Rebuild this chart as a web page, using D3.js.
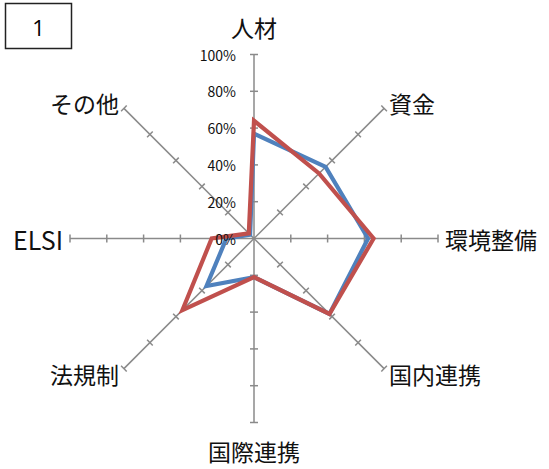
<!DOCTYPE html>
<html lang="ja">
<head>
<meta charset="utf-8">
<title>Radar chart 1</title>
<script src="https://d3js.org/d3.v7.min.js"></script>
<style>
body { margin: 0; background: #fff; font-family: "Noto Sans CJK JP", "Noto Sans", sans-serif; }
</style>
</head>
<body>
<div id="vis"></div>
<script>

/* Data */
var categories = ['人材', '資金', '環境整備', '国内連携', '国際連携', '法規制', 'ELSI', 'その他'];
var seriesBlue = [0.57, 0.55, 0.62, 0.58, 0.21, 0.365, 0.15, 0.03];
var seriesRed  = [0.64, 0.50, 0.65, 0.58, 0.21, 0.55, 0.23, 0.04];
var tickValues = [0, 0.2, 0.4, 0.6, 0.8, 1.0];
var panelLabel = '1';

/* SVG */
var width = 549, height = 469;
var cx = 254, cy = 238.5, radius = 184;

var svg = d3.select('#vis').append('svg')
	.attr('width', width)
	.attr('height', height);

var r = d3.scaleLinear().domain([0, 1]).range([0, radius]);
var angle = d3.scaleLinear().domain([0, categories.length]).range([0, 2 * Math.PI]);

function pt(i, v) {
	var a = angle(i);
	return [cx + r(v) * Math.sin(a), cy - r(v) * Math.cos(a)];
}

// panel number box
svg.append('rect')
	.attr('x', 5.5).attr('y', 3.5).attr('width', 66).attr('height', 45)
	.attr('fill', '#fff').attr('stroke', '#222').attr('stroke-width', 1.5);
svg.append('text')
	.attr('x', 38.5).attr('y', 27)
	.attr('text-anchor', 'middle').attr('dominant-baseline', 'central')
	.attr('font-size', 22).attr('font-family', 'Open Sans, sans-serif')
	.text(panelLabel);

// axes with ticks
var axes = svg.append('g').attr('class', 'axes');
categories.forEach(function(c, i) {
	var end = pt(i, 1);
	axes.append('line')
		.attr('x1', cx).attr('y1', cy).attr('x2', end[0]).attr('y2', end[1])
		.attr('stroke', '#8a8a8a').attr('stroke-width', 1.5);
	var a = angle(i);
	var px = Math.cos(a) * 4, py = Math.sin(a) * 4;
	tickValues.slice(1).forEach(function(t) {
		var p = pt(i, t);
		axes.append('line')
			.attr('x1', p[0] - px).attr('y1', p[1] - py)
			.attr('x2', p[0] + px).attr('y2', p[1] + py)
			.attr('stroke', '#8a8a8a').attr('stroke-width', 1.5);
	});
});

// series
var line = d3.line().curve(d3.curveLinearClosed);
[[seriesBlue, '#4f81bd'], [seriesRed, '#c0504d']].forEach(function(s) {
	svg.append('path')
		.datum(s[0].map(function(v, i) { return pt(i, v); }))
		.attr('d', line)
		.attr('fill', 'none')
		.attr('stroke', s[1])
		.attr('stroke-width', 4.2)
		.attr('stroke-linejoin', 'miter');
});

// tick labels
svg.append('g').selectAll('text')
	.data(tickValues)
	.enter().append('text')
		.attr('x', cx - 18)
		.attr('y', function(d) { return cy - r(d); })
		.attr('text-anchor', 'end')
		.attr('dominant-baseline', 'central')
		.attr('font-size', 14)
		.attr('fill', '#111')
		.text(function(d) { return d3.format('.0%')(d); });

// category labels
svg.append('g').selectAll('text')
	.data(categories)
	.enter().append('text')
		.attr('x', function(d, i) {
			var s = Math.sin(angle(i));
			var rr = Math.abs(s) < 0.01 ? 212 : 191;
			return cx + rr * s;
		})
		.attr('y', function(d, i) {
			var s = Math.sin(angle(i));
			var rr = Math.abs(s) < 0.01 ? 212 : 191;
			return cy - rr * Math.cos(angle(i));
		})
		.attr('text-anchor', function(d, i) {
			var s = Math.sin(angle(i));
			return Math.abs(s) < 0.01 ? 'middle' : (s > 0 ? 'start' : 'end');
		})
		.attr('dominant-baseline', 'central')
		.attr('font-size', function(d) { return d === 'ELSI' ? 25 : 23; })
		.attr('fill', '#111')
		.text(function(d) { return d; });

</script>
</body>
</html>
